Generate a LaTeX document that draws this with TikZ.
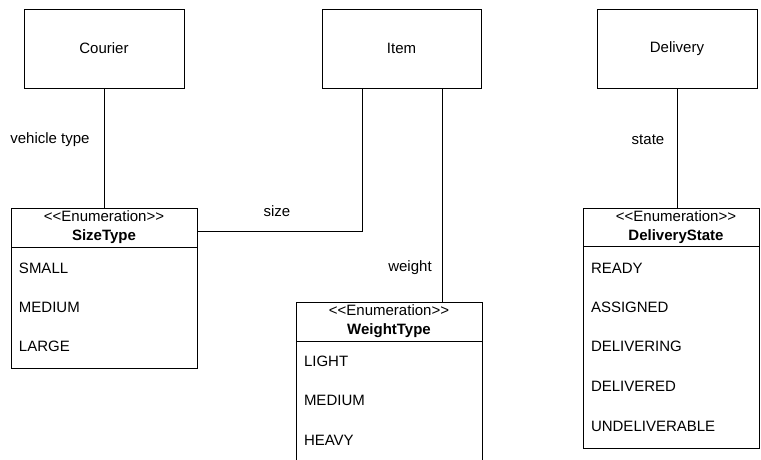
\documentclass[tikz,border=0pt]{standalone}
\usepackage{fontspec}
\setmainfont{Liberation Sans}
\begin{document}
\begin{tikzpicture}[x=1pt,y=-1pt,
  every node/.style={font=\fontsize{15}{18}\selectfont, inner sep=0pt, outer sep=0pt},
  cls/.style={draw, line width=0.9pt, minimum width=160pt, minimum height=79pt},
  frame/.style={draw, line width=0.9pt, anchor=north west},
  lit/.style={anchor=west},
  conn/.style={draw, line width=0.9pt},
  lbl/.style={anchor=center}]
\clip (0,0) rectangle (761,459);
\fill[white] (0,0) rectangle (761,459);

% classes
\node[cls] (courier) at (104,48.5) {Courier};
\node[cls, minimum width=159pt] (item) at (401.5,48.5) {Item};
\node[cls] (delivery) at (677,48.5) {Delivery};

% SizeType
\node[frame, minimum width=186pt, minimum height=39pt] (sizeH) at (11,208) {};
\node[frame, minimum width=186pt, minimum height=121pt] (sizeB) at (11,247) {};
\node (sizeS) at (104,216) {<\kern0pt<Enumeration>\kern0pt>};
\node (sizeN) at (104,237) {\bfseries SizeType};
\node[lit] (s1) at (19,268) {SMALL};
\node[lit] (s2) at (19,307) {MEDIUM};
\node[lit] (s3) at (19,346) {LARGE};

% WeightType
\node[frame, minimum width=186pt, minimum height=39pt] (wH) at (296,302) {};
\node[frame, minimum width=186pt, minimum height=140pt] (wB) at (296,341) {};
\node (wS) at (389,310) {<\kern0pt<Enumeration>\kern0pt>};
\node (wN) at (389,331) {\bfseries WeightType};
\node[lit] (w1) at (304,361) {LIGHT};
\node[lit] (w2) at (304,400) {MEDIUM};
\node[lit] (w3) at (304,440) {HEAVY};

% DeliveryState
\node[frame, minimum width=176.5pt, minimum height=38pt] (dH) at (583,208) {};
\node[frame, minimum width=176.5pt, minimum height=202pt] (dB) at (583,246) {};
\node (dS) at (676,216) {<\kern0pt<Enumeration>\kern0pt>};
\node (dN) at (676,237) {\bfseries DeliveryState};
\node[lit] (d1) at (591,268) {READY};
\node[lit] (d2) at (591,307) {ASSIGNED};
\node[lit] (d3) at (591,346) {DELIVERING};
\node[lit] (d4) at (591,386) {DELIVERED};
\node[lit] (d5) at (591,426) {UNDELIVERABLE};

% connectors
\draw[conn] (courier.south) -- (sizeH.north -| courier.south);
\draw[conn] (item.south -| 362,0) |- (sizeH.east |- 0,231);
\draw[conn] (item.south -| 442,0) -- (wH.north -| 442,0);
\draw[conn] (delivery.south) -- (dH.north -| delivery.south);

% labels
\node[lbl] (lvt) at (50,140) {vehicle type};
\node[lbl] (lsz) at (277,211) {size};
\node[lbl] (lwt) at (410,268) {weight};
\node[lbl] (lst) at (648,140) {state};
\end{tikzpicture}
\end{document}
